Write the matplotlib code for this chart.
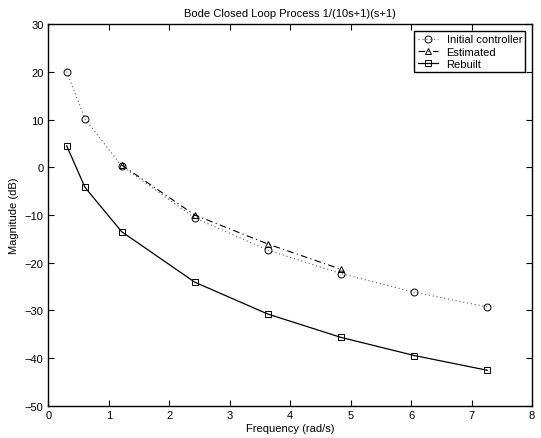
import matplotlib
matplotlib.use("Agg")
from matplotlib import pyplot as plt

# closed-loop magnitude samples (dB) at the test frequencies (rad/s)
freq = [0.302, 0.604, 1.21, 2.42, 3.63, 4.84, 6.05, 7.26]
initial_db = [20.1, 10.2, 0.3, -10.6, -17.4, -22.3, -26.2, -29.3]

freq_est = [1.21, 2.42, 3.63, 4.84]
estimated_db = [0.5, -10.0, -16.1, -21.4]

rebuilt_db = [4.5, -4.2, -13.5, -24.1, -30.8, -35.7, -39.5, -42.6]

plt.rcParams.update({"font.family": ["Liberation Sans", "DejaVu Sans"],
                     "font.size": 8,
                     "xtick.direction": "in", "ytick.direction": "in",
                     "xtick.top": True, "ytick.right": True,
                     "xtick.major.size": 4, "ytick.major.size": 4,
                     "axes.linewidth": 1.0})

fig = plt.figure(figsize=(5.41, 4.39), dpi=100)
ax = fig.add_axes([0.0896, 0.074, 0.8938, 0.868])

mk = dict(markersize=5, markerfacecolor="none", markeredgecolor="black",
          markeredgewidth=0.7)
ax.plot(freq, initial_db, ls=(0, (1, 2.5)), lw=0.8, color="0.35", marker="o",
        label="Initial controller", **mk)
ax.plot(freq_est, estimated_db, ls=(0, (6, 3, 1, 3)), lw=0.8, color="black",
        marker="^", label="Estimated", **mk)
ax.plot(freq, rebuilt_db, ls="-", lw=0.9, color="black", marker="s",
        label="Rebuilt", **dict(mk, markersize=4.5))

ax.set_xlim(0, 8)
ax.set_ylim(-50, 30)
ax.set_xticks(range(0, 9))
ax.set_yticks(range(-50, 31, 10))
ax.set_xlabel("Frequency (rad/s)", labelpad=2)
ax.set_ylabel("Magnitude (dB)", labelpad=4)
ax.set_title("Bode Closed Loop Process 1/(10s+1)(s+1)", fontsize=8, pad=6)

leg = ax.legend(loc="upper right", fancybox=False, framealpha=1,
                edgecolor="black", handlelength=1.8, borderaxespad=0.6,
                handletextpad=0.8, labelspacing=0.2, borderpad=0.3)
leg.get_frame().set_linewidth(1.0)

fig.savefig("out.png", dpi=100)
